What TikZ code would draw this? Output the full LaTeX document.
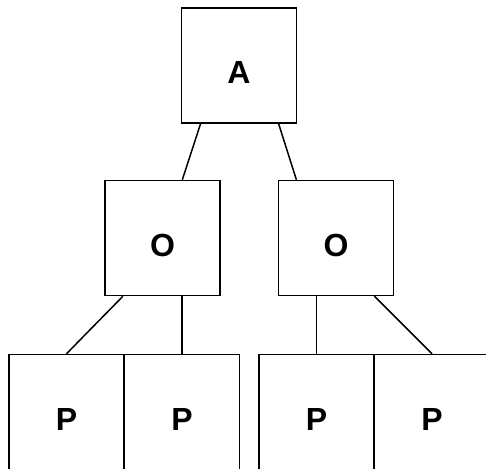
\documentclass[tikz,border=0pt]{standalone}
\usepackage{fontspec}
\setmainfont{Liberation Sans}
\usetikzlibrary{calc}
\tikzset{%
  box/.style  = {shape=rectangle, draw, line width=1.5pt,%
                 minimum size=115pt, inner sep=0pt,%
                 text height=37pt, text depth=0pt,%
                 font=\bfseries\fontsize{32}{32}\selectfont},%
  link/.style = {line width=1.5pt}%
}

\begin{document}
\begin{tikzpicture}[x=1pt,y=-1pt]
	\useasboundingbox (0,0) rectangle (486,468);
	\clip (0,0) rectangle (486,468);
	% root
	\node [box] (A) at (239,65.5) {A};
	% middle level
	\node [box] (Ol) at (162.5,238) {O};
	\node [box] (Or) at (336,238) {O};
	% leaves
	\node [box] (P1) at (66.5,412) {P};
	\node [box] (P2) at (182,412) {P};
	\node [box] (P3) at (316.5,412) {P};
	\node [box] (P4) at (432,412) {P};
	% links
	\draw [link] ($(A.south west)!0.17!(A.south east)$) -- ($(Ol.north west)!0.67!(Ol.north east)$);
	\draw [link] ($(A.south west)!0.84!(A.south east)$) -- ($(Or.north west)!0.16!(Or.north east)$);
	\draw [link] ($(Ol.south west)!0.16!(Ol.south east)$) -- (P1.north);
	\draw [link] (P2.north |- Ol.south) -- (P2.north);
	\draw [link] (P3.north |- Or.south) -- (P3.north);
	\draw [link] ($(Or.south west)!0.83!(Or.south east)$) -- (P4.north);
\end{tikzpicture}
\end{document}
